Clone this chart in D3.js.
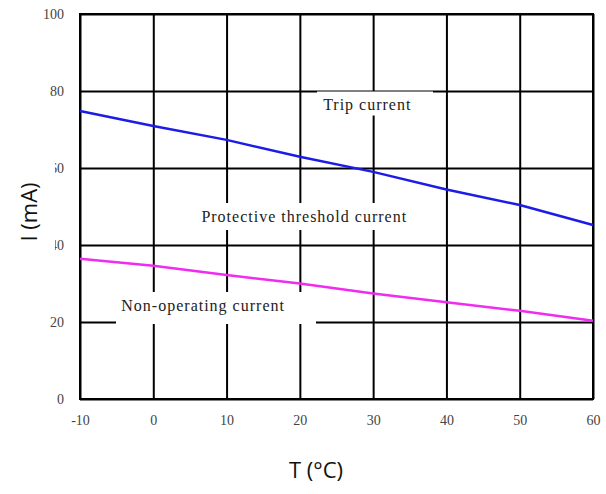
<!DOCTYPE html>
<html>
<head>
<meta charset="utf-8">
<script src="https://cdn.jsdelivr.net/npm/d3@7"></script>
<style>
  html, body { margin: 0; padding: 0; background: #fff; }
  svg { display: block; }
</style>
</head>
<body>
<div id="chart"></div>
<script>
// data
var temps = [-10, 0, 10, 20, 30, 40, 50, 60];
var tripCurrent = [74.8, 70.9, 67.3, 62.9, 59.0, 54.4, 50.4, 45.2];
var nonOperating = [36.4, 34.6, 32.2, 30.0, 27.4, 25.1, 22.9, 20.3];
var xTicks = [-10, 0, 10, 20, 30, 40, 50, 60];
var yTicks = [0, 20, 40, 60, 80, 100];

(function () {
    var W = 606, H = 494;
    var margin = { top: 14, right: 13, bottom: 95, left: 80 };
    var width = W - margin.left - margin.right,
        height = H - margin.top - margin.bottom;

    var svg = d3.select('#chart').append('svg')
        .attr('width', W).attr('height', H);

    var x = d3.scaleLinear().domain([-10, 60]).range([0, width]);
    var y = d3.scaleLinear().domain([0, 100]).range([height, 0]);

    var gGrid = svg.append('g').attr('transform', `translate(${margin.left},${margin.top})`);
    var gBox = svg.append('g');
    var g = svg.append('g').attr('transform', `translate(${margin.left},${margin.top})`);

    // grid + tick labels
    var xAxis = gGrid.append('g').attr('class', 'axis-x')
        .attr('transform', `translate(0,${height})`)
        .call(d3.axisBottom(x).tickValues(xTicks).tickSize(-height).tickPadding(16).tickFormat(d => String(d)));
    var yAxis = gGrid.append('g').attr('class', 'axis-y')
        .call(d3.axisLeft(y).tickValues(yTicks).tickSize(-width).tickPadding(16).tickFormat(d => String(d)));

    [xAxis, yAxis].forEach(a => {
        a.select('.domain').remove();
        a.selectAll('line').attr('stroke', '#000').attr('stroke-width', 2);
        a.selectAll('text')
            .attr('font-family', '"Liberation Serif", serif')
            .attr('font-size', 14)
            .attr('fill', '#444');
    });

    // plot frame
    gGrid.append('rect')
        .attr('x', 0).attr('y', 0)
        .attr('width', width).attr('height', height)
        .attr('fill', 'none').attr('stroke', '#000').attr('stroke-width', 2);

    // label backgrounds break the grid
    var labels = [
        { text: 'Trip current', t: 29.2, v: 76.6, box: [317, 91.5, 116, 24] },
        { text: 'Protective threshold current', t: 20.6, v: 47.5, box: [195, 203, 218, 27] },
        { text: 'Non-operating current', t: 6.8, v: 24.2, box: [116, 292, 200, 32] }
    ];
    labels.forEach(l => {
        gBox.append('rect')
            .attr('x', l.box[0]).attr('y', l.box[1])
            .attr('width', l.box[2]).attr('height', l.box[3])
            .attr('fill', '#fff');
    });

    // curves
    var line = d3.line().x(d => x(d[0])).y(d => y(d[1]));
    g.append('path')
        .datum(temps.map((t, i) => [t, tripCurrent[i]]))
        .attr('d', line).attr('fill', 'none')
        .attr('stroke', '#1c1ce6').attr('stroke-width', 2.5);
    g.append('path')
        .datum(temps.map((t, i) => [t, nonOperating[i]]))
        .attr('d', line).attr('fill', 'none')
        .attr('stroke', '#f02cf0').attr('stroke-width', 2.5);

    labels.forEach(l => {
        g.append('text')
            .attr('x', x(l.t)).attr('y', y(l.v))
            .attr('text-anchor', 'middle')
            .attr('dy', '0.35em')
            .attr('font-family', '"Liberation Serif", serif')
            .attr('font-size', 16)
            .attr('letter-spacing', 1)
            .attr('fill', '#222')
            .text(l.text);
    });

    // y title sits on a white box that clips the 60/40 labels
    svg.append('rect')
        .attr('x', 0).attr('y', 155).attr('width', 55).attr('height', 100)
        .attr('fill', '#fff');
    svg.append('text')
        .attr('transform', 'translate(37,212) rotate(-90)')
        .attr('text-anchor', 'middle')
        .attr('font-family', '"Open Sans", "Noto Sans", sans-serif')
        .attr('font-size', 22)
        .attr('fill', '#111')
        .text('I (mA)');

    svg.append('text')
        .attr('x', 316).attr('y', 478)
        .attr('text-anchor', 'middle')
        .attr('font-family', '"Open Sans", "Noto Sans", sans-serif')
        .attr('font-size', 22)
        .attr('fill', '#111')
        .text('T (°C)');
})();
</script>
</body>
</html>
